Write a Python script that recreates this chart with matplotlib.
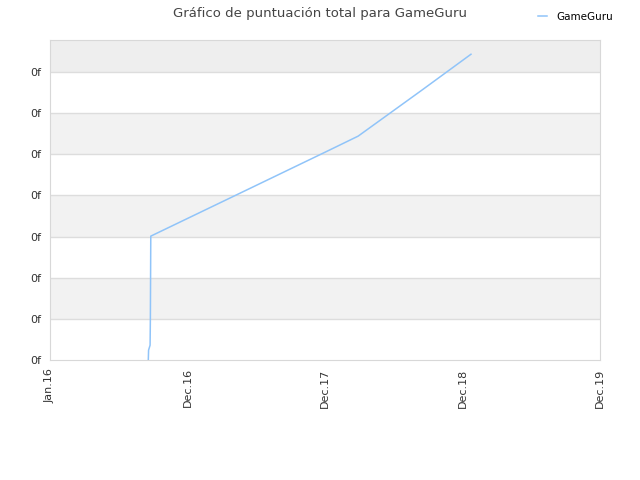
import matplotlib
matplotlib.use('Agg')
import matplotlib.pyplot as plt

# years since Jan.16, score (in tick units)
years = [0.715, 0.717, 0.728, 0.730, 0.733, 1.46, 2.00, 2.24, 2.70, 3.06]
score = [0.00, 0.24, 0.36, 1.00, 3.01, 4.18, 5.05, 5.44, 6.55, 7.43]

xtick_pos = [0, 1, 2, 3, 4]
xtick_labels = ['Jan.16', 'Dec.16', 'Dec.17', 'Dec.18', 'Dec.19']
ytick_pos = [0, 1, 2, 3, 4, 5, 6, 7]
ytick_labels = ['0f'] * 8

fig = plt.figure(figsize=(6.4, 4.8), dpi=100)
ax = fig.add_axes([0.078, 0.25, 0.86, 0.667])

ytop = 7.78
for lo in [1, 3, 5]:
    ax.axhspan(lo, lo + 1, color='#f2f2f2', zorder=0, lw=0)
ax.axhspan(7, ytop, color='#eeeeee', zorder=0, lw=0)
for y in ytick_pos[1:]:
    ax.axhline(y, color='#dddddd', lw=1, zorder=1)

ax.plot(years, score, color='#90c4f9', lw=1.1, label='GameGuru', zorder=3)

ax.set_xlim(0, 4)
ax.set_ylim(0, ytop)
ax.set_xticks(xtick_pos)
ax.set_xticklabels(xtick_labels, rotation=90, fontsize=8, color='#333333')
ax.set_yticks(ytick_pos)
ax.set_yticklabels(ytick_labels, fontsize=8, color='#333333')
ax.tick_params(length=0, pad=6)
for s in ax.spines.values():
    s.set_color('#d8d8d8')

fig.suptitle('Gráfico de puntuación total para GameGuru', x=0.5, y=0.985,
             fontsize=9.5, color='#444444')
fig.legend(loc='upper right', bbox_to_anchor=(0.973, 0.995), frameon=False,
           fontsize=7.5, handlelength=0.9, handletextpad=0.9)

fig.savefig('out.png', dpi=100)
